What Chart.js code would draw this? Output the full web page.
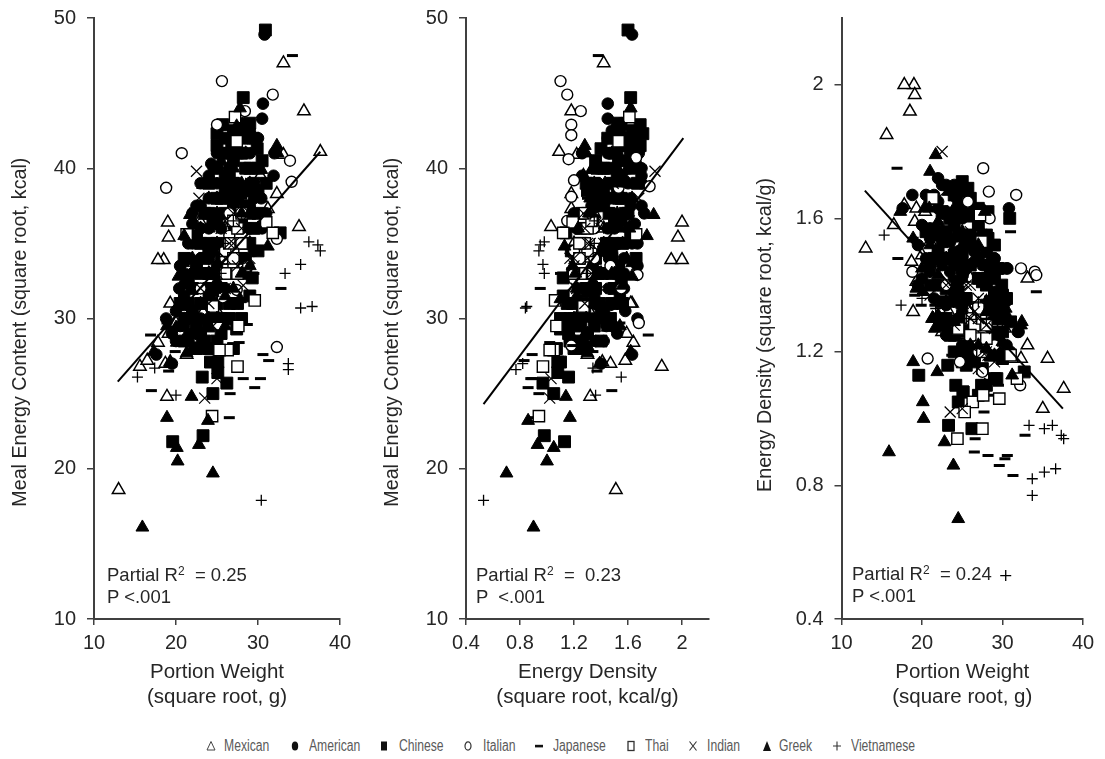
<!DOCTYPE html>
<html><head><meta charset="utf-8">
<script src="https://cdn.jsdelivr.net/npm/chart.js@4"></script>
<style>
html,body{margin:0;padding:0;background:#fff;width:1105px;height:759px;overflow:hidden;font-family:"Liberation Sans",Arial,sans-serif}
canvas{position:absolute;top:0}
.note{position:absolute;font-size:18.5px;line-height:22px;color:#262626;white-space:pre}
.note sup{font-size:12px;line-height:0;vertical-align:6px}
.lg{position:absolute;top:737px;font-family:"Liberation Sans",sans-serif;font-size:16px;line-height:18px;color:#5a5a5a;white-space:pre;transform:scaleX(.76);transform-origin:0 0}
.sym{position:absolute;top:740px}
</style></head><body>
<canvas id="c1" style="left:0" width="365" height="720"></canvas>
<canvas id="c2" style="left:372px" width="365" height="720"></canvas>
<canvas id="c3" style="left:745px" width="360" height="720"></canvas>
<div class="note" style="left:107px;top:564px">Partial R<sup>2</sup>  = 0.25
P &lt;.001</div>
<div class="note" style="left:476px;top:564px">Partial R<sup>2</sup>  =  0.23
P  &lt;.001</div>
<div class="note" style="left:852px;top:563px">Partial R<sup>2</sup>  = 0.24
P &lt;.001</div>
<div id="legend"></div>
<script>
// Every row: [portion weight, meal energy content, energy density], all square-root scale
const categories = ["Mexican","American","Chinese","Italian","Japanese","Thai","Indian","Greek","Vietnamese"];
const mexican = [[19,36.4,2.0],[19.1,35.4,1.97],[18.5,33.9,1.92],[17.8,33.9,2.0],[15.6,26.8,1.85],[13,18.6,1.51],[33.1,47,1.42],[35.6,43.8,1.18],[37.6,41.1,1.09],[35,36.1,1.03],[33.1,40.9,1.22],[32.3,38.3,1.18],[31.2,37.3,1.18],[30.3,39.5,1.27],[18.7,27,1.47],[19.3,27.1,1.41],[16.5,27.2,1.58],[21.3,27.6,1.3],[17.8,28.4,1.64],[19.1,29,1.59],[19.3,31,1.63],[20.4,31,1.62],[23.3,30.4,1.32],[18.9,24.8,1.32],[22.5,28.6,1.26],[20,29.7,1.49],[24,33,1.4],[26,36,1.42],[28,37,1.35],[27,34,1.3],[25,30.5,1.25],[22.9,36.5,1.6],[21,32,1.53],[29,35,1.2]];
const american = [[30.8,48.9,1.63],[30.5,43.3,1.45],[31.9,39.5,1.26],[24.6,40,1.7],[18.8,30,1.67],[17.6,27.6,1.63],[30.4,38,1.35],[30.6,44.3,1.45],[29,42.5,1.48],[21,33,1.57],[20.4,32,1.57],[21.6,34,1.57],[22,36.3,1.65],[23,37.5,1.62],[24.3,40.3,1.66],[25,40,1.61],[21,30.9,1.47],[22,33,1.5],[23,34,1.48],[24,36,1.5],[25,37,1.48],[26,38,1.46],[27,38.5,1.42],[28,37,1.32],[29,42,1.48],[28,41,1.46],[27,41,1.52],[25,33.5,1.34],[23,31,1.35],[24,30,1.25],[22,29,1.3],[26,32,1.23],[29,36,1.24],[31,37,1.2],[20,28.5,1.42],[19.5,27,1.4],[32,41,1.26],[24.5,34.5,1.41],[26.5,40,1.5],[22,35,1.63],[23,36,1.61],[24,38,1.62],[25,39,1.6],[26,41,1.62],[27,42,1.6],[28,43,1.55],[29,41,1.45],[30,40,1.37],[29.5,38,1.33],[21,31.5,1.54],[22.5,32,1.46],[23.5,33,1.44],[24.5,35,1.46],[25.5,36,1.45],[26.5,38,1.47],[27.5,39,1.46],[28.5,40,1.44],[22,30,1.4],[23,30,1.34],[24.5,31,1.3],[26,33,1.3],[28,36,1.32],[29,37.5,1.33],[20.5,29.5,1.48],[21.5,28.5,1.36],[25,32,1.32],[23.5,35,1.53],[22.5,37.5,1.7],[24,39.5,1.7],[23,39,1.7],[21.5,35,1.67],[20.5,33.5,1.67],[22,37,1.72],[25,41,1.68],[30,42,1.45],[29,39,1.38],[30.5,36,1.22],[28.5,34,1.22],[29.5,34.5,1.2],[23,28,1.25],[25,30,1.22],[24,31.5,1.35],[25,35,1.44],[24,34,1.46],[20,30.5,1.58],[19.5,29,1.52],[21,29.5,1.44]];
const chinese = [[30.9,49.2,1.6],[28.2,44.7,1.62],[25,41.5,1.69],[25,42.3,1.71],[25.7,42.9,1.69],[28.2,42.7,1.54],[29.4,42,1.45],[29.9,41.3,1.4],[26.8,41.5,1.61],[32.7,35.7,1.14],[29.3,32.7,1.12],[19.6,21.8,1.13],[23.3,22.2,0.98],[26.2,25.7,0.97],[24.5,25,1.05],[23.2,26.1,1.16],[25.1,26.4,1.08],[24.2,27.1,1.1],[25.1,27.1,1.08],[27.4,29.3,1.1],[23,33,1.48],[24,35,1.49],[24.5,36.5,1.55],[25,38,1.55],[26,39.5,1.55],[27,37.5,1.42],[28,38.5,1.4],[28.5,40,1.45],[27,40.5,1.53],[25.5,34,1.36],[24,32,1.36],[26,33,1.3],[29,37,1.3],[30,38.5,1.3],[25,31,1.26],[23,29,1.3],[24,29.5,1.25],[22,30.5,1.4],[21.5,32.5,1.55],[28,34,1.24],[26.5,31,1.19],[27,41.5,1.58],[23,35,1.56],[24,37,1.58],[25,40,1.64],[26,41,1.62],[28,41,1.5],[29,40,1.42],[30,40,1.37],[22,32,1.5],[23,31,1.39],[24,33,1.41],[25,35,1.44],[26,37,1.46],[27,39,1.48],[28,36.5,1.34],[29,35,1.25],[24.5,30.5,1.28],[25.5,32,1.29],[27.5,33,1.24],[28.5,33,1.19],[22.5,29.5,1.35],[23.5,28.5,1.25],[21,30,1.47],[24,34.5,1.48],[26,38.5,1.52],[29,38.5,1.37],[27,28,1.07],[25,28.5,1.17],[28,30,1.1],[25.5,38,1.53],[26.5,39.5,1.52],[27.5,38,1.41],[28.5,37.5,1.35],[29.5,39,1.35],[30.5,40.5,1.36],[24,39,1.67],[23.5,37,1.6],[22.5,33.5,1.53],[21.5,31,1.48],[20.5,31,1.56],[21,34,1.66],[22.5,35.5,1.62],[23.5,34,1.48],[24.5,33,1.38],[25,36.5,1.5],[25.5,30,1.2],[24,28,1.2],[22.5,28,1.28],[21,28.5,1.4],[28.5,35,1.26],[29.5,36,1.25],[30,34.5,1.18],[27.5,31,1.15],[26.5,30,1.17],[25.5,29,1.16],[29,31.5,1.12],[30,37,1.26],[31,39,1.29],[27,42.5,1.63],[26,42,1.66],[28,42,1.55],[29,43,1.52]];
const italian = [[25.6,45.8],[31.8,44.9],[28.4,43.8],[25,42.9],[20.7,41],[18.8,38.7],[33.9,40.5],[34.1,39.1],[28.8,33.5],[32.3,35.3],[27.4,31.9],[25.7,31.4],[32.3,28.1],[25.1,29.6],[26,34],[26.5,35.5],[27,33.5],[27.5,36],[28,35],[26.5,37],[23,32],[27,34.5]];
const italianEnergyDensityPanel = [[1.1,45.8],[1.15,44.9],[1.25,43.8],[1.18,42.9],[1.18,42.2],[1.16,40.6],[1.66,40.7],[1.76,38.8],[1.2,39.2],[1.53,38.7],[1.18,38.1],[1.15,36.5],[1.67,32.9],[1.68,29.7],[1.18,28.2],[1.47,33.5],[1.3,36],[1.35,34],[1.25,35],[1.3,33],[1.35,36],[1.3,37],[1.55,32],[1.2,34.5]];
const italianDensityPanel = [[27.6,1.75],[28.3,1.68],[31.7,1.67],[32.3,1.45],[34,1.44],[34.2,1.43],[32.2,1.1],[20.7,1.18],[18.8,1.44],[25.7,1.65],[28.4,1.6],[24.7,1.17],[27.5,1.14],[27,1.3],[27.5,1.25],[26,1.3],[27,1.2],[28,1.3],[26.5,1.25],[23,1.4],[29,1.22]];
const japanese = [[34.2,47.5,1.38],[32.8,32,0.95],[16.9,28.9,1.75],[17,25.2,1.48],[26.5,23.4,0.9],[28.2,26,0.89],[30.3,26,0.88],[29.6,25.4,0.86],[31.3,27.2,0.83],[30.6,27.6,0.89],[26.6,25,0.94],[27.7,28.4,1.02],[28.7,29.6,1.07],[19.9,27.8,1.34],[19.1,26.5,1.37],[18.9,29.7,1.54],[21.6,30,1.34],[23,30,1.34],[24,31.5,1.28],[26,33,1.25],[27,36,1.3],[28,38,1.3],[30,37,1.22],[29.5,33,1.1],[25,36,1.42],[28,41,1.45],[23.7,28.2,1.19],[25,29.8,1.19],[31,36,1.56]];
const thai = [[27.2,43.4,1.61],[27.4,41.8,1.53],[21.3,35.6,1.66],[31,36.4,1.19],[29.6,31.2,1.06],[27.5,26.8,0.97],[24.4,23.5,0.94],[26.3,27.9,1.05],[25.3,27.9,1.02],[24.5,30.8,1.27],[31.8,35.7,1.12],[27.6,29.5,1.07],[26,34.5,1.3],[26.5,35,1.28],[27,34,1.24],[27.5,36,1.3],[27,36.5,1.33],[28,37,1.28],[26,33,1.25],[27.5,33,1.2],[28,35,1.24]];
const indian = [[22.5,39.8,1.8],[22.8,38,1.68],[26.6,39,1.49],[26,39.9,1.56],[23.5,24.7,1.02],[25,26,1.03],[22.6,36.5,1.61],[21,30,1.37],[26.2,40,1.54],[28.2,32.2,1.19],[24,31,1.28],[25,33,1.33],[26,34,1.3],[27,35,1.3],[28,36,1.28],[25.5,36,1.4],[24.5,35,1.42],[27,37,1.36],[29,37,1.27],[26,32,1.22],[27.5,33.5,1.2],[23,32,1.4],[24.5,29.5,1.2],[26,36.5,1.4],[27,31,1.15],[30,39,1.3],[29,34,1.17],[25,34.5,1.38],[28,34,1.2],[26.5,35,1.32]];
const greek = [[15.9,16.1,0.9],[24.5,19.7,0.7],[20.2,20.5,1.0],[22.8,21.6,0.93],[20.1,21.4,1.05],[18.9,23.4,1.17],[23.9,23.2,0.86],[21.9,24.8,1.14],[21.7,36.9,1.79],[31.2,34.8,1.13],[27.8,31.3,1.1],[27.8,44,1.62],[30.4,39.9,1.33],[32.3,41.5,1.28],[23.3,38.9,1.68],[20.9,33.7,1.63],[20.3,32.8,1.63],[20.7,32.2,1.56],[24.5,39,1.6],[19.3,27,1.39],[20,29.4,1.45],[20.1,28.4,1.38],[21.3,27.7,1.3],[18.9,29.5,1.54],[17.3,27.8,1.62],[21.4,29,1.3],[21.6,28.5,1.27],[24.5,31.7,1.3],[27.4,42.8,1.56],[30.3,38,1.32],[32.4,41,1.29],[22,33,1.5],[23,31,1.35],[25,35,1.42],[28,37,1.32],[24,33,1.39],[25,30,1.2],[29,39,1.35],[26,31.5,1.22],[25.5,40.5,1.6],[22.5,35,1.56],[22,30.5,1.43],[23,33,1.48],[24,36,1.54],[25,38,1.56],[26,39,1.54],[27,40,1.52],[28,39,1.43],[29,37,1.31],[30,36,1.23],[21,31,1.52],[22,34,1.59],[23,36,1.61],[24,38,1.63],[24,30,1.29],[25,32.5,1.34],[28,33,1.21],[29,33.5,1.19],[27,32,1.22],[26,29.5,1.17],[23,28.5,1.28],[22,28,1.31],[28.5,41,1.48],[25,37,1.52],[21,35.5,1.74]];
const vietnamese = [[36.2,35.1,0.98],[37.3,34.9,0.95],[37.6,34.5,0.94],[35.2,33.6,0.97],[33.3,33,0.98],[35.2,30.7,0.84],[36.6,30.8,0.85],[33.7,27,0.82],[33.7,26.6,0.77],[17.4,26.7,1.34],[15.3,26.1,1.55],[30.4,17.9,0.53],[20,24.9,1.36],[21.7,28.5,1.33],[25,36,1.42],[26,35,1.35],[24,33,1.4],[27,36.5,1.35],[25.5,33,1.3],[28,37,1.3],[28.5,39,1.35]];
// Fitted lines: [x, y] at both ends
const fitEnergyOnWeight = [[12.9,25.8],[37.6,41.1]];
const fitEnergyOnDensity = [[0.53,24.3],[2.01,42]];
const fitDensityOnWeight = [[12.9,1.683],[37.5,1.03]];
const energyTicks = [10,20,30,40,50];
const weightTicks = [10,20,30,40];
const densityTicks = [0.4,0.8,1.2,1.6,2];

const black = "#000";
const styles = {
  Mexican:{pointStyle:"triangle",r:7.2,fill:"#fff",bw:1.5},
  American:{pointStyle:"circle",r:5.8,fill:black,bw:1},
  Chinese:{pointStyle:"rect",r:8.4,fill:black,bw:1},
  Italian:{pointStyle:"circle",r:5.5,fill:"#fff",bw:1.4},
  Japanese:{pointStyle:"line",r:5.5,fill:black,bw:3},
  Thai:{pointStyle:"rect",r:8,fill:"#fff",bw:1.4},
  Indian:{pointStyle:"crossRot",r:7.8,fill:black,bw:1.2},
  Greek:{pointStyle:"triangle",r:7.4,fill:black,bw:1},
  Vietnamese:{pointStyle:"cross",r:5.5,fill:black,bw:1.3}
};
const rows = {Mexican:mexican,American:american,Chinese:chinese,Japanese:japanese,Thai:thai,Indian:indian,Greek:greek,Vietnamese:vietnamese};
function series(pick, italianPoints){
  return categories.map(function(name,i){
    const s = styles[name];
    const pts = name==="Italian" ? italianPoints : rows[name].map(pick);
    return {type:"scatter",label:name,data:pts,order:9-i,pointStyle:s.pointStyle,pointRadius:s.r,pointHoverRadius:s.r,
      pointBackgroundColor:s.fill,pointBorderColor:black,pointBorderWidth:s.bw,showLine:false};
  });
}
function toXY(p){return {x:p[0],y:p[1]};}
const axisColor="#404040", textColor="#262626";
function axis(min,max,ticks,title,titleCfg,fit,tickPad,tickLen){
  return {type:"linear",min:min,max:max,
    afterBuildTicks:function(a){a.ticks=ticks.map(function(v){return {value:v};});},
    afterFit:fit,
    border:{color:axisColor,width:2},
    grid:{drawOnChartArea:false,drawTicks:true,tickLength:tickLen,color:axisColor,lineWidth:1.5},
    ticks:{color:textColor,font:{size:20,family:"'Liberation Sans'"},padding:tickPad,maxRotation:0,autoSkip:false,
      callback:function(v){return String(v);}},
    title:Object.assign({display:true,text:title,color:textColor},titleCfg)};
}
function build(id,datasets,line,xAxis,yAxis,padRight){
  new Chart(document.getElementById(id),{
    data:{datasets:datasets.concat([{type:"line",label:"Fit",data:line.map(toXY),order:-1,borderColor:black,borderWidth:2,pointRadius:0,fill:false}])},
    options:{responsive:false,animation:false,events:[],
      layout:{padding:{top:18,right:padRight,left:0,bottom:0}},
      plugins:{legend:{display:false},tooltip:{enabled:false}},
      scales:{x:xAxis,y:yAxis}}
  });
}
const xFit=function(a){a.height=101;a.paddingLeft=0;a.paddingRight=0;};
function yFit(w){return function(a){a.width=w;a.paddingTop=0;a.paddingBottom=0;};}
const xTitleCfg={padding:{top:0,bottom:10.7},font:{size:20.5,family:"'Liberation Sans'",lineHeight:1.2}};
const yTitleCfg={padding:{top:9,bottom:0},font:{size:19.7,family:"'Liberation Sans'",lineHeight:1.2}};
const wTitle=["Portion Weight","(square root, g)"];
const dTitle=["Energy Density","(square root, kcal/g)"];
// trailing no-break spaces move the rotated titles down the axis, as in the source figure
const eTitle="Meal Energy Content (square root, kcal)\u00a0\u00a0\u00a0\u00a0\u00a0";
const dyTitle="Energy Density (square root, kcal/g)\u00a0\u00a0\u00a0\u00a0\u00a0\u00a0";

build("c1",series(function(r){return {x:r[0],y:r[1]};},italian.map(toXY)),fitEnergyOnWeight,
  axis(10,40,weightTicks,wTitle,xTitleCfg,xFit,6,6),
  axis(10,50,energyTicks,eTitle,yTitleCfg,yFit(94),11,7),25);
build("c2",series(function(r){return {x:r[2],y:r[1]};},italianEnergyDensityPanel.map(toXY)),fitEnergyOnDensity,
  axis(0.4,2.2,densityTicks,dTitle,xTitleCfg,xFit,6,6),
  axis(10,50,energyTicks,eTitle,yTitleCfg,yFit(94),11,7),28);
build("c3",series(function(r){return {x:r[0],y:r[2]};},italianDensityPanel.map(toXY)),fitDensityOnWeight,
  axis(10,40,weightTicks,wTitle,xTitleCfg,xFit,6,6),
  axis(0.4,2.2,densityTicks,dyTitle,yTitleCfg,yFit(96.5),11,7),22);

// Legend row
const legendSym = {
  Mexican:'<path d="M5 1.5 L9 10 L1 10 Z" fill="#fff" stroke="#444" stroke-width="1"/>',
  American:'<ellipse cx="5" cy="6" rx="3.2" ry="4.6" fill="#111"/>',
  Chinese:'<rect x="2" y="1.5" width="6" height="9" fill="#111"/>',
  Italian:'<ellipse cx="5" cy="6" rx="3" ry="4.2" fill="#fff" stroke="#333" stroke-width="1.2"/>',
  Japanese:'<rect x="1" y="4.8" width="8" height="2.6" fill="#111"/>',
  Thai:'<rect x="2" y="1.5" width="6" height="9" fill="#fff" stroke="#333" stroke-width="1.3"/>',
  Indian:'<path d="M1.5 1.5 L8.5 10.5 M8.5 1.5 L1.5 10.5" stroke="#333" stroke-width="1.1" fill="none"/>',
  Greek:'<path d="M5 1 L9 11 L1 11 Z" fill="#111"/>',
  Vietnamese:'<path d="M5 1.5 V10.5 M1 6 H9" stroke="#333" stroke-width="1.1" fill="none"/>'
};
const legendSymX = [206,290,379,463,534,626,688,762,832];
const legendTextX = [224,308.5,398.5,482.5,553,645,707,779,851];
document.getElementById("legend").innerHTML = categories.map(function(n,i){
  return '<svg class="sym" style="left:'+legendSymX[i]+'px" width="10" height="12">'+legendSym[n]+'</svg>'+
         '<span class="lg" style="left:'+legendTextX[i]+'px">'+n+'</span>';
}).join("");
</script>
</body></html>
